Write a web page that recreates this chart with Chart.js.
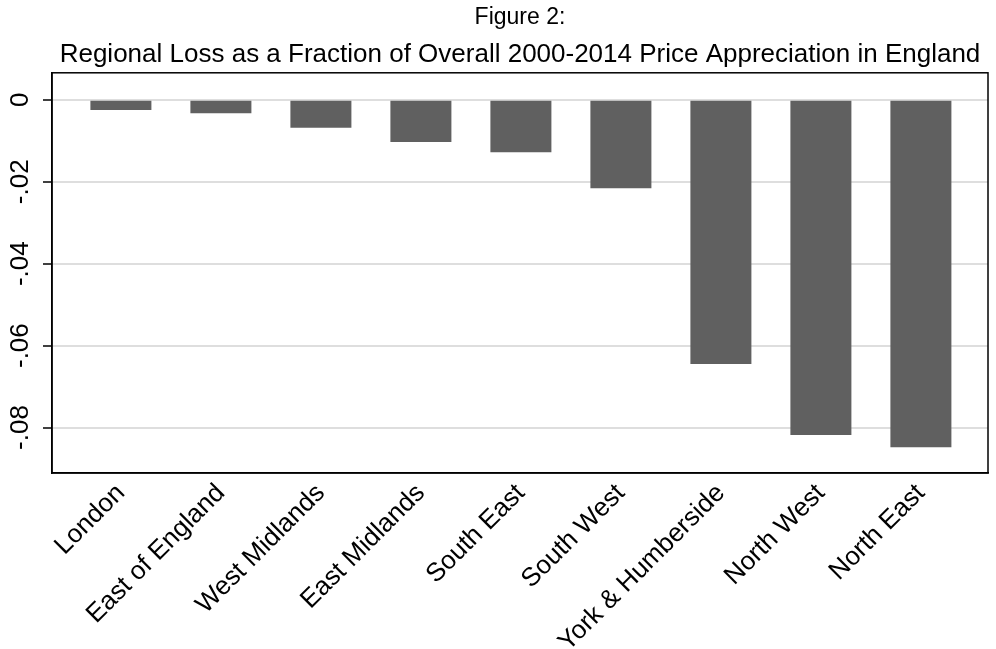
<!DOCTYPE html>
<html>
<head>
<meta charset="utf-8">
<script src="https://cdn.jsdelivr.net/npm/chart.js@4"></script>
<style>
  html, body { margin: 0; padding: 0; background: #fff; }
  #wrap { width: 996px; height: 649px; }
</style>
</head>
<body>
<div id="wrap"><canvas id="lossChart"></canvas></div>
<script>
const regions = ['London', 'East of England', 'West Midlands', 'East Midlands', 'South East',
                 'South West', 'York & Humberside', 'North West', 'North East'];
const loss = [-0.0025, -0.0033, -0.0068, -0.0103, -0.0128, -0.0216, -0.0645, -0.0818, -0.0848];
const yTicks = [0, -0.02, -0.04, -0.06, -0.08];

// box round the plot region
const boxPlugin = {
    id: 'box',
    afterDraw(chart) {
        const a = chart.chartArea;
        const ctx = chart.ctx;
        ctx.save();
        ctx.strokeStyle = '#000';
        ctx.lineWidth = 1.5;
        ctx.strokeRect(a.left, a.top, a.right - a.left, a.bottom - a.top);
        ctx.restore();
    }
};

function fmtY(v) {
    const r = Math.round(v * 100) / 100;
    if (r === 0) return '0';
    return r.toFixed(2).replace('0.', '.');
}

const ctx = document.getElementById('lossChart').getContext('2d');
new Chart(ctx, {
    type: 'bar',
    data: {
        datasets: [{
            data: regions.map((r, i) => ({ x: i + 1, y: loss[i] })),
            backgroundColor: '#606060',
            borderWidth: 0,
            barPercentage: 0.61,
            categoryPercentage: 1.0
        }]
    },
    options: {
        responsive: true,
        maintainAspectRatio: false,
        animation: false,
        layout: { padding: { left: 0, right: 8, top: 0, bottom: 0 } },
        plugins: {
            legend: { display: false },
            tooltip: { enabled: false },
            title: {
                display: true,
                fullSize: false,
                text: 'Figure 2:',
                color: '#000',
                font: { family: 'Arial, "Liberation Sans"', size: 23, weight: 'normal' },
                padding: { top: 4, bottom: 0 }
            },
            subtitle: {
                display: true,
                fullSize: false,
                text: 'Regional Loss as a Fraction of Overall 2000-2014 Price Appreciation in England',
                color: '#000',
                font: { family: 'Arial, "Liberation Sans"', size: 26, weight: 'normal' },
                padding: { top: 8, bottom: 2 }
            }
        },
        scales: {
            x: {
                type: 'linear',
                offset: false,
                min: 0.311,
                max: 9.671,
                grid: { display: false, drawTicks: false, offset: false },
                border: { display: true, color: '#000', width: 1.5 },
                afterFit(scale) { scale.height = 176; },
                ticks: {
                    stepSize: 1,
                    autoSkip: false,
                    includeBounds: false,
                    minRotation: 45,
                    maxRotation: 45,
                    padding: 5,
                    color: '#000',
                    font: { family: 'Arial, "Liberation Sans"', size: 26 },
                    callback: (v) => regions[v - 1] || ''
                }
            },
            y: {
                min: -0.0911,
                max: 0.0066,
                grid: { color: '#dedede', lineWidth: 2, tickColor: '#000', tickLength: 9, tickWidth: 1.5 },
                border: { display: true, color: '#000', width: 1.5 },
                afterFit(scale) { scale.width = 52; },
                afterBuildTicks(scale) { scale.ticks = yTicks.map(v => ({ value: v })); },
                ticks: {
                    stepSize: 0.02,
                    includeBounds: false,
                    minRotation: 90,
                    maxRotation: 90,
                    crossAlign: 'center',
                    padding: 0,
                    color: '#000',
                    font: { family: 'Arial, "Liberation Sans"', size: 26 },
                    callback: (v) => fmtY(v)
                }
            }
        }
    },
    plugins: [boxPlugin]
});
</script>
</body>
</html>
